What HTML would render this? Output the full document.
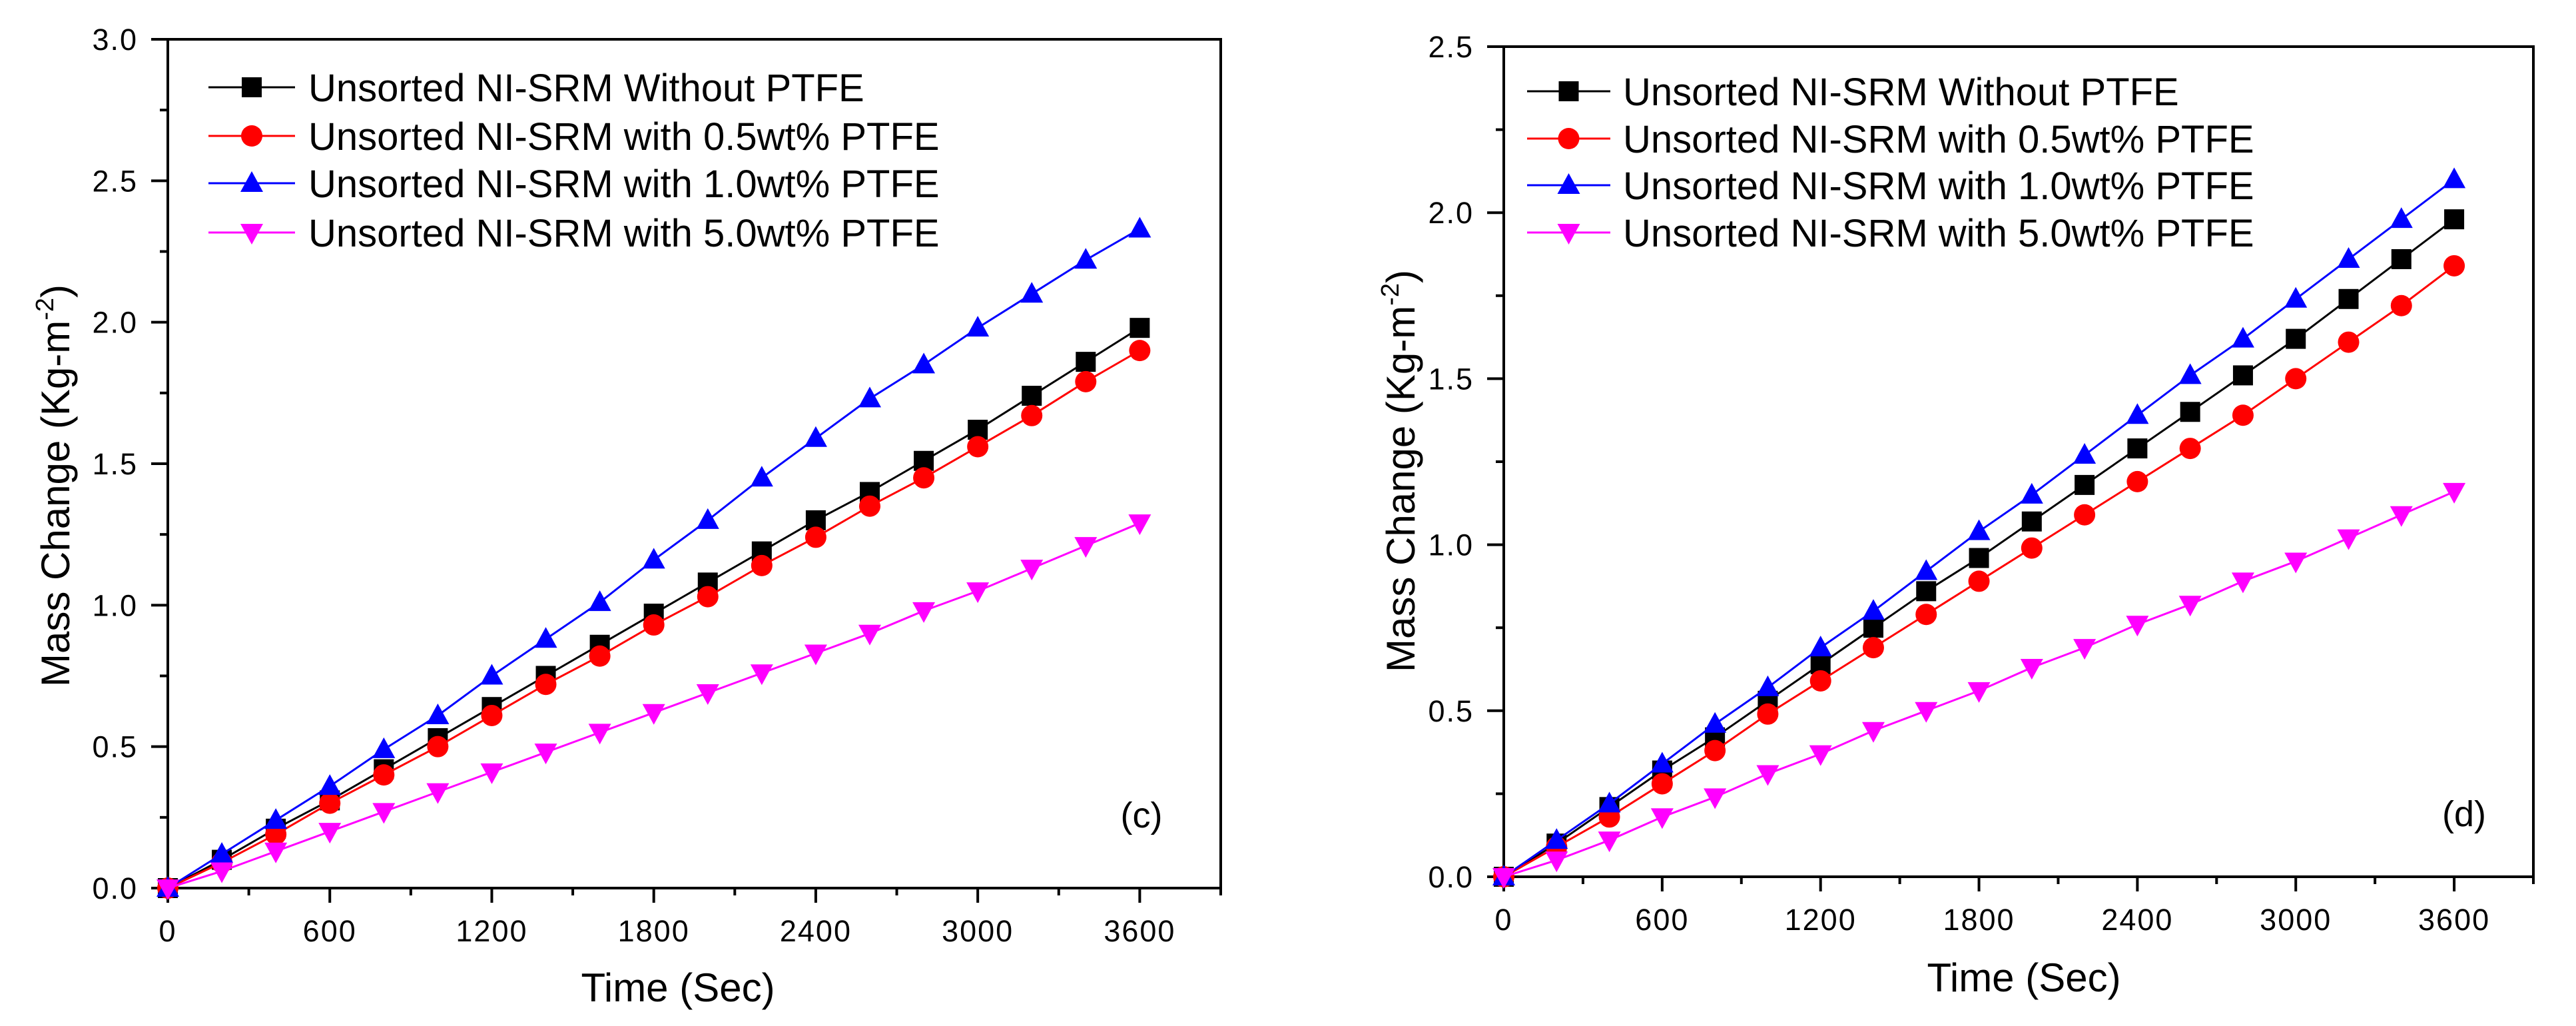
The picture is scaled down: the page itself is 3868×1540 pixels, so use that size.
<!DOCTYPE html>
<html><head><meta charset="utf-8"><style>
html,body{margin:0;padding:0;background:#fff;}
svg{display:block;font-family:"Liberation Sans",Arial,sans-serif;}
</style></head><body>
<svg id="fig" width="3868" height="1540" viewBox="0 0 3868 1540" xmlns="http://www.w3.org/2000/svg"></svg>
<script>
const times = [0,200,400,600,800,1000,1200,1400,1600,1800,2000,2200,2400,2600,2800,3000,3200,3400,3600];
const seriesNames = ["Unsorted NI-SRM Without PTFE","Unsorted NI-SRM with 0.5wt% PTFE","Unsorted NI-SRM with 1.0wt% PTFE","Unsorted NI-SRM with 5.0wt% PTFE"];
const xTicks = [0,600,1200,1800,2400,3000,3600];
const yTicksC = [0,0.5,1.0,1.5,2.0,2.5,3.0];
const yTicksD = [0,0.5,1.0,1.5,2.0,2.5];
const cBlack = [0,0.10,0.21,0.31,0.42,0.53,0.64,0.75,0.86,0.97,1.08,1.19,1.30,1.40,1.51,1.62,1.74,1.86,1.98];
const cRed = [0,0.09,0.19,0.30,0.40,0.50,0.61,0.72,0.82,0.93,1.03,1.14,1.24,1.35,1.45,1.56,1.67,1.79,1.90];
const cBlue = [0,0.12,0.24,0.36,0.49,0.61,0.75,0.88,1.01,1.16,1.30,1.45,1.59,1.73,1.85,1.98,2.10,2.22,2.33];
const cMag = [0,0.06,0.13,0.20,0.27,0.34,0.41,0.48,0.55,0.62,0.69,0.76,0.83,0.90,0.98,1.05,1.13,1.21,1.29];
const dBlack = [0,0.10,0.21,0.32,0.42,0.53,0.64,0.75,0.86,0.96,1.07,1.18,1.29,1.40,1.51,1.62,1.74,1.86,1.98];
const dRed = [0,0.09,0.18,0.28,0.38,0.49,0.59,0.69,0.79,0.89,0.99,1.09,1.19,1.29,1.39,1.50,1.61,1.72,1.84];
const dBlue = [0,0.11,0.22,0.34,0.46,0.57,0.69,0.80,0.92,1.04,1.15,1.27,1.39,1.51,1.62,1.74,1.86,1.98,2.10];
const dMag = [0,0.05,0.11,0.18,0.24,0.31,0.37,0.44,0.50,0.56,0.63,0.69,0.76,0.82,0.89,0.95,1.02,1.09,1.16];

const NS="http://www.w3.org/2000/svg";
const svg=document.getElementById('fig');
function mk(tag,attrs,parent){const e=document.createElementNS(NS,tag);for(const k in attrs)e.setAttribute(k,attrs[k]);(parent||svg).appendChild(e);return e;}
const colors=["#000000","#ff0000","#0000ff","#ff00ff"];
const shapes=["square","circle","up","down"];

function marker(g,shape,x,y,c,name){
  let e;
  if(shape==="square") e=mk('rect',{x:x-15,y:y-15,width:30,height:30,fill:c},g);
  else if(shape==="circle") e=mk('circle',{cx:x,cy:y,r:16,fill:c},g);
  else if(shape==="up") e=mk('polygon',{points:`${x},${y-18} ${x+17},${y+13} ${x-17},${y+13}`,fill:c},g);
  else e=mk('polygon',{points:`${x},${y+18} ${x+17},${y-13} ${x-17},${y-13}`,fill:c},g);
  
  
}

function panel(p){
  const g=mk('g',{});
  
  
  const X=v=>p.x0+(v/3900)*(p.x1-p.x0);
  const Y=v=>p.y0-(v/p.ymax)*(p.y0-p.y1);
  const fr=mk('rect',{x:p.x0,y:p.y1,width:p.x1-p.x0,height:p.y0-p.y1,fill:'none',stroke:'#000','stroke-width':4},g);
  
  
  for(let v=0;v<=3900;v+=300){
    const major=v%600===0;
    mk('line',{x1:X(v),x2:X(v),y1:p.y0,y2:p.y0+(major?22:11),stroke:'#000','stroke-width':4},g);
  }
  xTicks.forEach(v=>{
    const t=mk('text',{x:X(v),y:p.y0+80,'font-size':45,'text-anchor':'middle',fill:'#000','letter-spacing':2},g);
    t.textContent=String(v);
    
    
  });
  for(let v=0;v<=p.ymax+1e-9;v+=0.25){
    const major=Math.abs(v*2-Math.round(v*2))<1e-6;
    mk('line',{x1:p.x0,x2:p.x0-(major?25:12),y1:Y(v),y2:Y(v),stroke:'#000','stroke-width':4},g);
  }
  p.yTicks.forEach(v=>{
    const t=mk('text',{x:p.x0-45,y:Y(v)+16,'font-size':45,'text-anchor':'end',fill:'#000','letter-spacing':2},g);
    t.textContent=v.toFixed(1);
    
    
  });
  const xt=mk('text',{x:p.xtx,y:p.xty,'font-size':60,'text-anchor':'middle',fill:'#000'},g);
  xt.textContent='Time (Sec)';
  
  
  const yt=mk('text',{x:0,y:0,'font-size':60,'text-anchor':'middle',fill:'#000',transform:`translate(${p.ytx},${p.yty}) rotate(-90)`},g);
  yt.innerHTML='Mass Change (Kg-m<tspan dy="-24" font-size="38">-2</tspan><tspan dy="24">)</tspan>';
  
  
  p.series.forEach((vals,i)=>{
    const pts=times.map((t,j)=>X(t)+','+Y(vals[j])).join(' ');
    const pl=mk('polyline',{points:pts,fill:'none',stroke:colors[i],'stroke-width':3},g);
    
    
    times.forEach((t,j)=>marker(g,shapes[i],X(t),Y(vals[j]),colors[i],'data-point'));
  });
  seriesNames.forEach((n,i)=>{
    const y=p.legY[i];
    const ln=mk('line',{x1:p.legL0,x2:p.legL1,y1:y,y2:y,stroke:colors[i],'stroke-width':3},g);
    
    
    marker(g,shapes[i],(p.legL0+p.legL1)/2,y,colors[i],'legend-marker');
    const t=mk('text',{x:p.legT,y:y+21,'font-size':58,fill:'#000'},g);
    t.textContent=n;
    
    
  });
  const lab=mk('text',{x:p.labX,y:p.labY,'font-size':54,'text-anchor':'middle',fill:'#000'},g);
  lab.textContent=p.label;
  
  
}

panel({id:'panel-c',x0:252,x1:1833,y0:1333,y1:59,ymax:3.0,yTicks:yTicksC,
  series:[cBlack,cRed,cBlue,cMag],xtx:1018,xty:1503,ytx:104,yty:729,
  legY:[131,204,275,349],legL0:313,legL1:443,legT:463,label:'(c)',labX:1714,labY:1242});
panel({id:'panel-d',x0:2258,x1:3804,y0:1316,y1:70,ymax:2.5,yTicks:yTicksD,
  series:[dBlack,dRed,dBlue,dMag],xtx:3039,xty:1488,ytx:2124,yty:707,
  legY:[137,208,278,349],legL0:2293,legL1:2418,legT:2437,label:'(d)',labX:3700,labY:1240});
</script>
</body></html>
